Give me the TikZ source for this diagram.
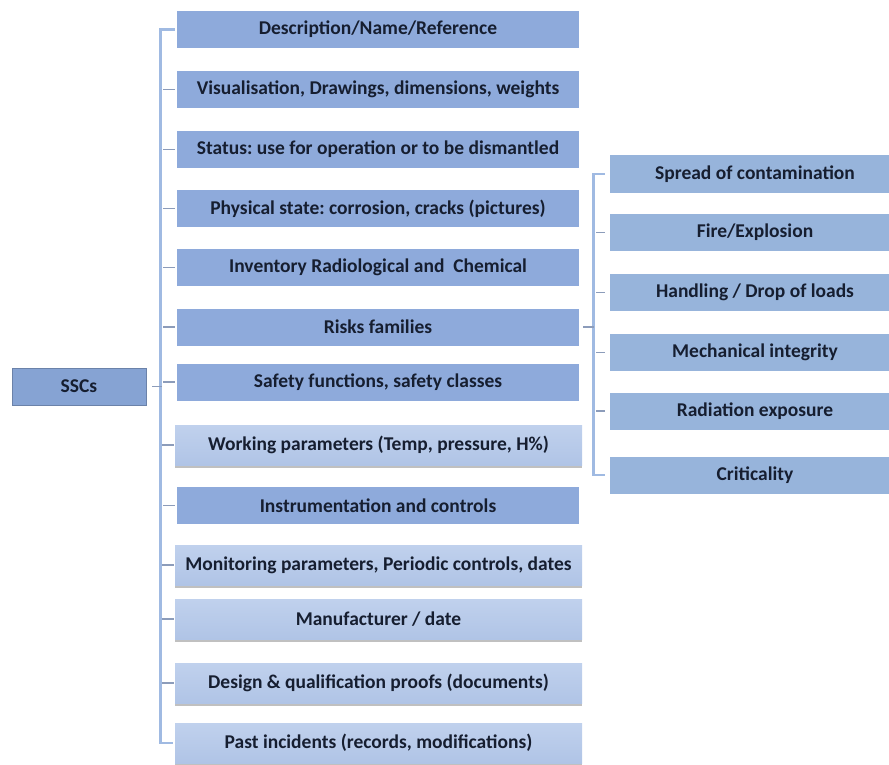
\documentclass[tikz,border=0pt]{standalone}
\usepackage{fontspec}
\setmainfont{Carlito}
\usepackage{xcolor}
\usetikzlibrary{positioning,shadows}
\frenchspacing

\definecolor{boxdark}{RGB}{142,170,219}
\definecolor{boxlighttop}{RGB}{192,209,237}
\definecolor{boxlightbot}{RGB}{176,196,230}
\definecolor{boxright}{RGB}{151,180,219}
\definecolor{rootbox}{RGB}{134,163,211}
\definecolor{linecol}{RGB}{160,186,226}
\definecolor{tickcol}{RGB}{140,156,186}
\definecolor{textcol}{RGB}{22,30,48}

\begin{document}
\begin{tikzpicture}[
	%	style def
    x=1pt, y=-1pt,
    every node/.style={font=\bfseries\fontsize{19.5}{22}\selectfont, text=textcol, inner sep=0pt},
    dark box/.style={fill=boxdark, minimum width=402pt, minimum height=37pt},
    light box/.style={top color=boxlighttop, bottom color=boxlightbot, minimum width=407pt, minimum height=40pt,
        drop shadow={shadow xshift=0pt, shadow yshift=-3pt, fill=black!45, opacity=.55}},
    risk box/.style={fill=boxright, minimum width=290pt, minimum height=37pt},
    root box/.style={fill=rootbox, draw=rootbox!80!black, line width=0.6pt, minimum width=134pt, minimum height=37pt},
    bracket line/.style={draw=linecol, line width=2.8pt},
    tick line/.style={draw=tickcol, line width=1.3pt}
    ]
	\useasboundingbox (0,0) rectangle (889,765);

	% root
	\node[root box] (ssc) at (79,386.5) {SSCs};

	% middle column
	\node[dark box] (desc) at (378,29.5) {Description/Name/Reference};
	\node[dark box] (visu) at (378,89.5) {Visualisation, Drawings, dimensions, weights};
	\node[dark box] (status) at (378,149.5) {Status: use for operation or to be dismantled};
	\node[dark box] (phys) at (378,208.5) {Physical state: corrosion, cracks (pictures)};
	\node[dark box] (inv) at (378,267.5) {Inventory Radiological and\ \ Chemical};
	\node[dark box] (risks) at (378,327) {Risks families};
	\node[dark box] (safety) at (378,382) {Safety functions, safety classes};
	\node[light box] (work) at (378.5,445) {Working parameters (Temp, pressure, H\%)};
	\node[dark box] (instr) at (378,505.5) {Instrumentation and controls};
	\node[light box] (monit) at (378.5,565) {Monitoring parameters, Periodic controls, dates};
	\node[light box] (manuf) at (378.5,619) {Manufacturer / date};
	\node[light box] (design) at (378.5,683) {Design \& qualification proofs (documents)};
	\node[light box] (past) at (378.5,743) {Past incidents (records, modifications)};

	% risk families
	\node[risk box] (spread) at (755,174) {Spread of contamination};
	\node[risk box] (fire) at (755,232.5) {Fire/Explosion};
	\node[risk box] (handl) at (755,292.5) {Handling / Drop of loads};
	\node[risk box] (mech) at (755,352.5) {Mechanical integrity};
	\node[risk box] (radia) at (755,411) {Radiation exposure};
	\node[risk box] (crit) at (755,475) {Criticality};

	% main bracket
	\draw[bracket line] ([xshift=-2pt]desc.west) -- ++(-14,0) |- ([xshift=-2pt]past.west);
	\draw[tick line] ([xshift=6pt]ssc.east) -- ++(10,0);
	\draw[tick line] ([xshift=-2pt]visu.west) -- ++(-12,0)
	                 ([xshift=-2pt]status.west) -- ++(-12,0)
	                 ([xshift=-2pt]phys.west) -- ++(-12,0)
	                 ([xshift=-2pt]inv.west) -- ++(-12,0)
	                 ([xshift=-2pt]risks.west) -- ++(-12,0)
	                 ([xshift=-2pt]safety.west) -- ++(-12,0)
	                 ([xshift=-1pt]work.west) -- ++(-12,0)
	                 ([xshift=-2pt]instr.west) -- ++(-12,0)
	                 ([xshift=-1pt]monit.west) -- ++(-12,0)
	                 ([xshift=-1pt]manuf.west) -- ++(-12,0)
	                 ([xshift=-1pt]design.west) -- ++(-12,0);

	% risks bracket
	\draw[bracket line] ([xshift=-5pt]spread.west) -- ++(-11,0) |- ([xshift=-5pt]crit.west);
	\draw[tick line] ([xshift=4pt]risks.east) -- ++(11,0);
	\draw[tick line] ([xshift=-5pt]fire.west) -- ++(-9,0)
	                 ([xshift=-5pt]handl.west) -- ++(-9,0)
	                 ([xshift=-5pt]mech.west) -- ++(-9,0)
	                 ([xshift=-5pt]radia.west) -- ++(-9,0);
\end{tikzpicture}
\end{document}
